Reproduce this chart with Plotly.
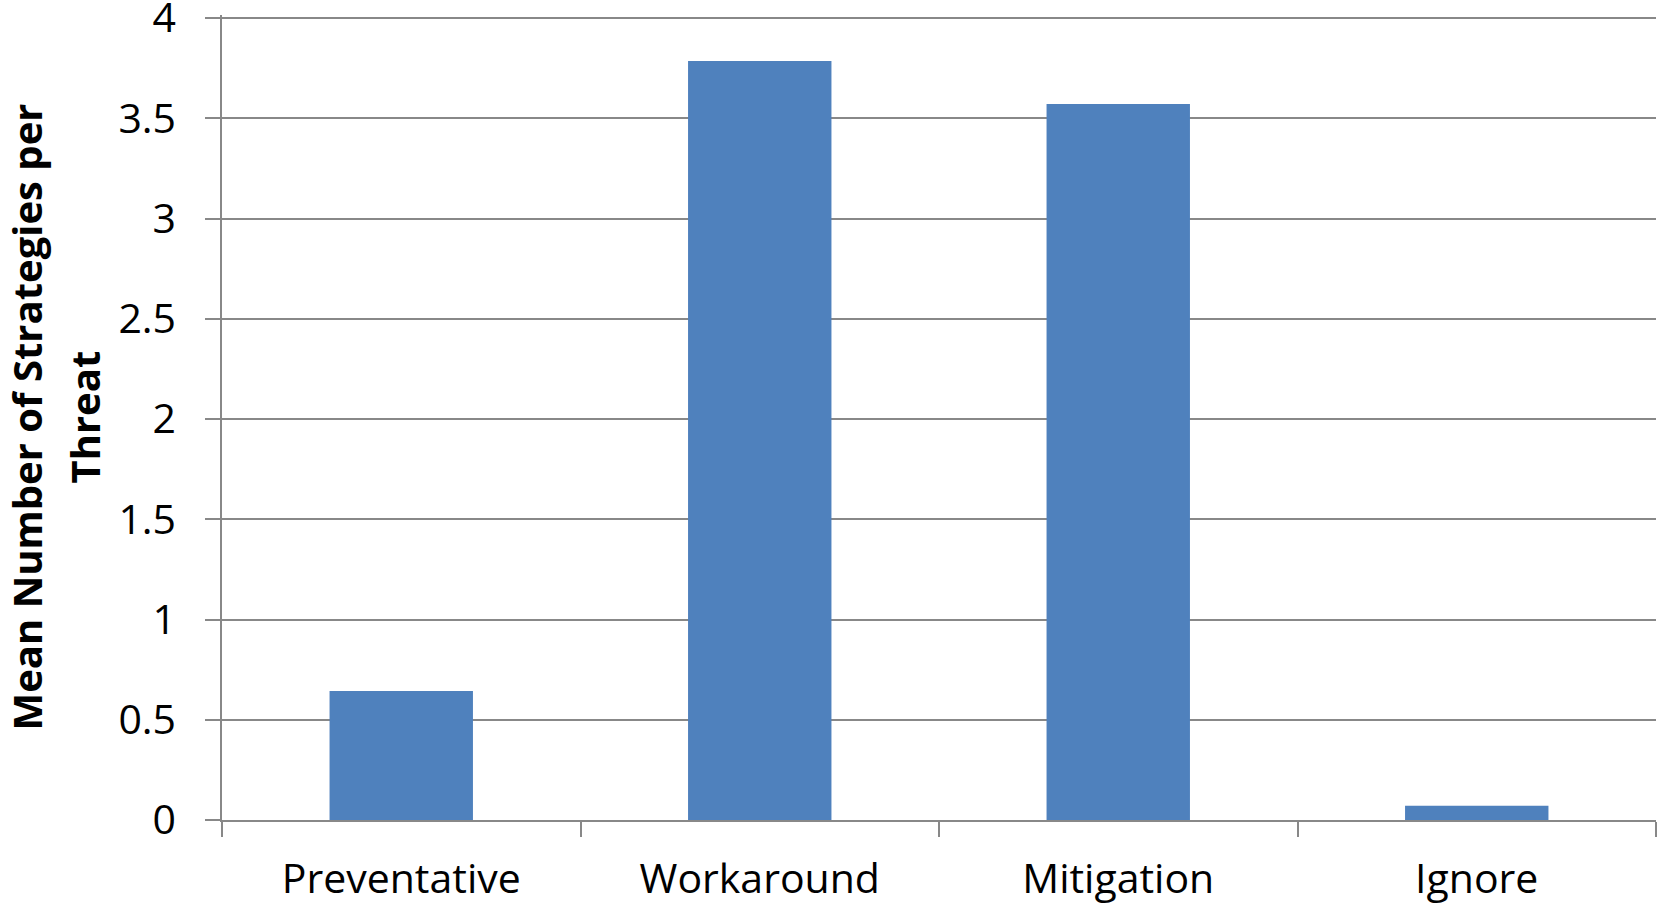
import plotly.graph_objects as go

categories = ["Preventative", "Workaround", "Mitigation", "Ignore"]
values = [0.643, 3.786, 3.571, 0.071]
y_ticks = [0, 0.5, 1, 1.5, 2, 2.5, 3, 3.5, 4]
y_tick_labels = ["0", "0.5", "1", "1.5", "2", "2.5", "3", "3.5", "4"]
y_title_lines = ["Mean Number of Strategies per", "Threat"]

FONT = "Open Sans"
GRID = "#888888"
TICKSIZE = 41
L, R, T, B = 222, 1, 15, 87
W, H = 1657, 907
plot_w = W - L - R

fig = go.Figure()
fig.add_trace(go.Bar(
    x=categories, y=values, width=0.4,
    marker=dict(color="#4F81BD", line=dict(width=0)),
    showlegend=False,
))

fig.update_layout(
    width=W, height=H,
    margin=dict(l=L, r=R, t=T, b=B),
    paper_bgcolor="white", plot_bgcolor="white",
    font=dict(family=FONT, color="black", size=TICKSIZE),
)
fig.update_xaxes(
    automargin=False,
    showline=True, linecolor=GRID, linewidth=1.5,
    ticks="outside", tickson="boundaries", ticklen=15, tickcolor=GRID, tickwidth=1.5,
    tickfont=dict(family=FONT, size=TICKSIZE, color="black"),
    ticklabelstandoff=22,
    showgrid=False,
)
fig.update_yaxes(
    automargin=False,
    range=[0, 4.015], tickvals=y_ticks, ticktext=y_tick_labels,
    showline=True, linecolor=GRID, linewidth=1.5,
    ticks="outside", ticklen=15, tickcolor=GRID, tickwidth=1.5,
    showgrid=True, gridcolor=GRID, gridwidth=1.5,
    zeroline=False,
    tickfont=dict(family=FONT, size=TICKSIZE, color="black"),
    ticklabelstandoff=21,
    ticklabeloverflow="allow",
)

# two-line rotated axis title (wider line spacing than plotly's <br>)
for px, line in zip([26, 84], y_title_lines):
    fig.add_annotation(
        text=f"<b>{line}</b>", textangle=-90,
        xref="paper", yref="paper", x=(px - L) / plot_w, y=0.5,
        xanchor="center", yanchor="middle", showarrow=False,
        font=dict(family=FONT, size=40, color="black"),
    )

fig.write_html("out.html")
